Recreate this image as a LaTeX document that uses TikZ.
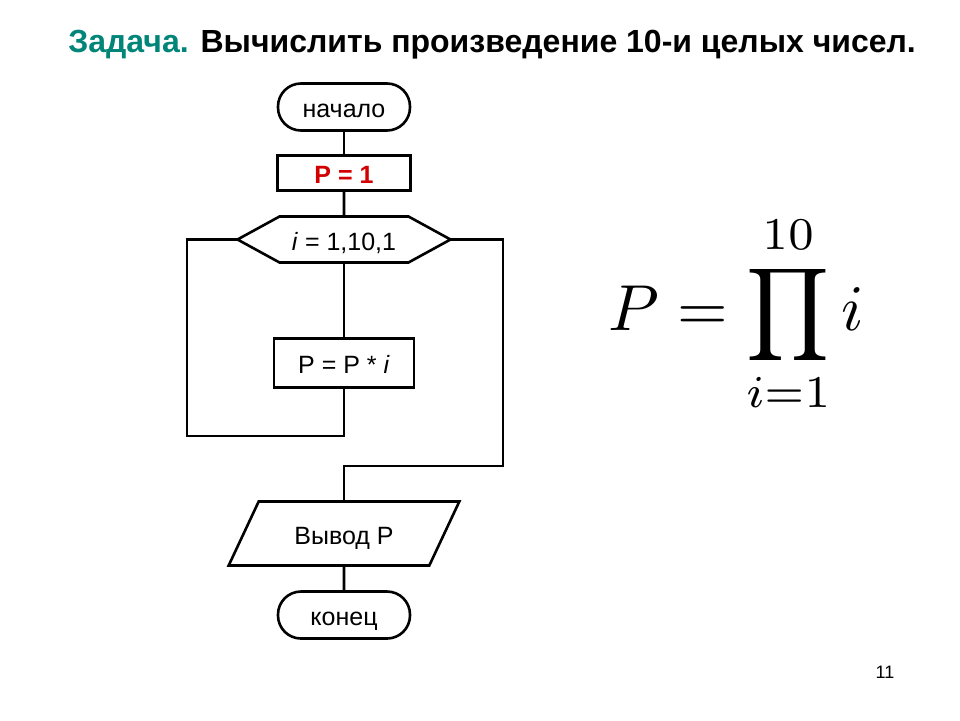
\documentclass[tikz,border=0pt]{standalone}
\usepackage{fontspec}
\setmainfont{Liberation Sans}
\usetikzlibrary{shapes.geometric, shapes.symbols, positioning}
\definecolor{corTitulo}{RGB}{0,133,120}
\definecolor{corPasso}{RGB}{210,0,0}

\begin{document}
\begin{tikzpicture}[x=1pt, y=-1pt, line width=2.6pt,
      bloco/.style={draw=black, inner sep=2pt, outer sep=0pt, text height=21pt, text depth=0pt,
        font=\fontsize{25}{30}\selectfont},
      term/.style={bloco, rectangle, rounded corners=23pt, minimum width=132pt, minimum height=47pt},
      proc/.style={bloco, rectangle, minimum width=140pt, minimum height=49pt},
      ciclo/.style={bloco, signal, signal to=west and east, signal pointer angle=57.4,
        minimum width=213pt, minimum height=46pt},
      saida/.style={bloco, trapezium, trapezium stretches=true, trapezium left angle=54,
        trapezium right angle=126, minimum width=231pt, minimum height=64pt},
      liga/.style={line cap=rect}]
    \useasboundingbox (0,0) rectangle (960,720);
    \node[anchor=base west, inner sep=0pt, font=\fontsize{32}{38}\selectfont\bfseries] (titulo) at (67,52)
      {\textcolor{corTitulo}{Задача.} Вычислить произведение 10-и целых чисел.};
    \node[term] (inicio) at (344,107) {начало};
    \node[proc, minimum width=133pt, minimum height=35pt, font=\fontsize{25}{30}\selectfont\bfseries,
      text=corPasso, below=25pt of inicio] (p1) {P = 1};
    \node[ciclo, below=26pt of p1] (laco) {\textit{i} = 1,10,1};
    \node[proc, below=76pt of laco] (corpo) {P = P * \textit{i}};
    \node[saida, below=114pt of corpo] (saida) {Вывод P};
    \node[term, below=26pt of saida] (fim) {конец};
    \coordinate (voltaE) at (187,436);
    \coordinate (voltaD) at (503,466);
    \draw[liga] (inicio)--(p1); \draw[liga] (p1)--(laco); \draw[liga] (laco)--(corpo);
    \draw (corpo.south) |- (voltaE) |- (laco.west);
    \draw (laco.east) -| (voltaD) -| (saida.north);
    \draw[liga] (saida)--(fim);
    \node[scale=6.5, inner sep=0pt] (formula) at (736,314) {$\displaystyle P=\prod_{i=1}^{10} i$};
    \node[font=\fontsize{18}{22}\selectfont] (pagina) at (885,672) {11};
  \end{tikzpicture}
\end{document}
